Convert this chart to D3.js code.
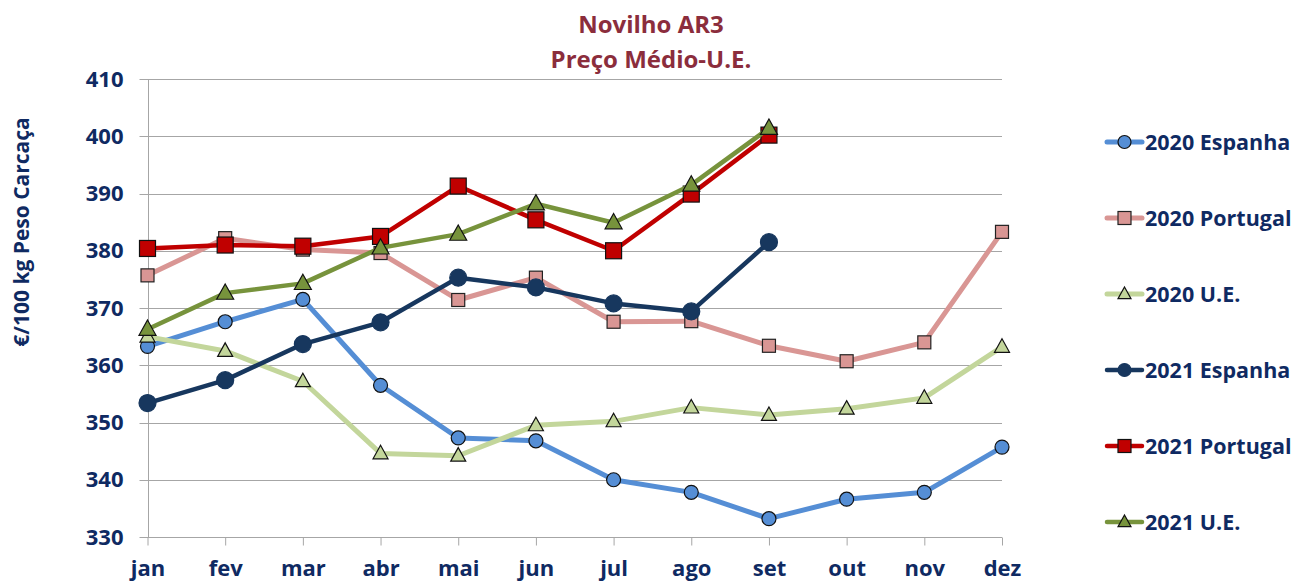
<!DOCTYPE html>
<html>
<head>
<meta charset="utf-8">
<script src="https://cdn.jsdelivr.net/npm/d3@7"></script>
<style>
  body { margin: 0; background: #fff; }
  text { font-family: "Open Sans", Lato, sans-serif; font-weight: bold; }
</style>
</head>
<body>
<div id="chart_container"></div>
<script>

// Data

const months = ["jan", "fev", "mar", "abr", "mai", "jun", "jul", "ago", "set", "out", "nov", "dez"]
const yTicks = [330, 340, 350, 360, 370, 380, 390, 400, 410]

const espanha2020 = [363.3, 367.6, 371.5, 356.5, 347.3, 346.8, 340.0, 337.8, 333.2, 336.6, 337.8, 345.7]
const portugal2020 = [375.7, 382.2, 380.2, 379.6, 371.4, 375.3, 367.6, 367.7, 363.4, 360.7, 364.0, 383.3]
const ue2020 = [365.0, 362.5, 357.2, 344.6, 344.2, 349.5, 350.2, 352.6, 351.3, 352.4, 354.3, 363.2]
const espanha2021 = [353.4, 357.4, 363.7, 367.5, 375.3, 373.6, 370.8, 369.4, 381.5]
const portugal2021 = [380.4, 381.0, 380.8, 382.5, 391.3, 385.4, 380.0, 389.9, 400.2]
const ue2021 = [366.3, 372.6, 374.3, 380.5, 382.9, 388.2, 384.9, 391.5, 401.4]

const seriesNames = ["2020 Espanha", "2020 Portugal", "2020 U.E.", "2021 Espanha", "2021 Portugal", "2021 U.E."]

// Styles

const textColor = "#0f2a62"
const gridColor = "#a6a6a6"
const styles = [
  { line: "#558ed5", fill: "#558ed5", stroke: "#111", shape: "circle", size: 7, width: 5 },
  { line: "#d99694", fill: "#d99694", stroke: "#222", shape: "square", size: 13, width: 5 },
  { line: "#c3d69b", fill: "#c3d69b", stroke: "#111", shape: "triangle", size: 15, width: 5 },
  { line: "#17375e", fill: "#17375e", stroke: "#17375e", shape: "circle", size: 8.5, width: 4.5 },
  { line: "#c00000", fill: "#c00000", stroke: "#111", shape: "square", size: 16, width: 4.5 },
  { line: "#77933c", fill: "#77933c", stroke: "#111", shape: "triangle", size: 17, width: 4.5 }
]
const allSeries = [espanha2020, portugal2020, ue2020, espanha2021, portugal2021, ue2021]

const svgWidth = 1305
const svgHeight = 581
const plotLeft = 147.5
const plotRight = 1002
const plotTop = 79
const plotBottom = 537

const svg = d3.select("#chart_container").append("svg")
  .attr("width", svgWidth)
  .attr("height", svgHeight)

const x = d3.scalePoint().domain(months).range([plotLeft, plotRight])
const y = d3.scaleLinear().domain([330, 410]).range([plotBottom, plotTop])

// gridlines
svg.selectAll(".yGrid")
  .data(yTicks)
  .join("line")
  .attr("class", "yGrid")
  .attr("x1", plotLeft - 8)
  .attr("x2", plotRight)
  .attr("y1", d => Math.round(y(d)) + 0.5)
  .attr("y2", d => Math.round(y(d)) + 0.5)
  .attr("stroke", gridColor)
  .attr("stroke-width", 1)

// left axis line
svg.append("line")
  .attr("x1", Math.round(plotLeft) + 0.5)
  .attr("x2", Math.round(plotLeft) + 0.5)
  .attr("y1", plotTop)
  .attr("y2", plotBottom)
  .attr("stroke", gridColor)

// y axis
svg.append("g")
  .attr("transform", `translate(${plotLeft - 14}, 0)`)
  .call(d3.axisLeft(y).tickValues(yTicks).tickSize(0).tickPadding(10))
  .call(g => g.select(".domain").remove())
  .selectAll("text")
  .attr("fill", textColor)
  .style("font-size", "22px")

// x axis
svg.append("g")
  .attr("transform", `translate(0, ${Math.round(plotBottom) + 0.5})`)
  .call(d3.axisBottom(x).tickSize(8).tickPadding(15))
  .call(g => g.select(".domain").remove())
  .call(g => g.selectAll(".tick line").attr("stroke", gridColor))
  .selectAll("text")
  .attr("fill", textColor)
  .style("font-size", "22px")

// y axis title
svg.append("text")
  .attr("transform", "rotate(-90)")
  .attr("x", -232)
  .attr("y", 29)
  .attr("text-anchor", "middle")
  .attr("fill", textColor)
  .style("font-size", "21px")
  .text("€/100 kg Peso Carcaça")

// title
const title = svg.append("text")
  .attr("text-anchor", "middle")
  .attr("fill", "#8b2d3c")
  .style("font-size", "24px")
title.append("tspan").attr("x", 651).attr("y", 33).text("Novilho AR3")
title.append("tspan").attr("x", 651).attr("y", 68).text("Preço Médio-U.E.")

// markers
function drawMarker(g, s, cx, cy) {
  if (s.shape === "circle") {
    g.append("circle").attr("cx", cx).attr("cy", cy).attr("r", s.size)
      .attr("fill", s.fill).attr("stroke", s.stroke).attr("stroke-width", 1.2)
  } else if (s.shape === "square") {
    g.append("rect").attr("x", cx - s.size / 2).attr("y", cy - s.size / 2)
      .attr("width", s.size).attr("height", s.size)
      .attr("fill", s.fill).attr("stroke", s.stroke).attr("stroke-width", 1.2)
  } else {
    const h = s.size * 0.9
    g.append("path")
      .attr("d", `M${cx},${cy - h * 0.6} L${cx + s.size / 2},${cy + h * 0.4} L${cx - s.size / 2},${cy + h * 0.4} Z`)
      .attr("fill", s.fill).attr("stroke", s.stroke).attr("stroke-width", 1.2)
  }
}

const line = d3.line()
  .x((d, i) => x(months[i]))
  .y(d => y(d))

allSeries.forEach((values, k) => {
  const s = styles[k]
  const g = svg.append("g")
  g.append("path")
    .datum(values)
    .attr("fill", "none")
    .attr("stroke", s.line)
    .attr("stroke-width", s.width)
    .attr("stroke-linejoin", "round")
    .attr("d", line)
  values.forEach((v, i) => drawMarker(g, s, x(months[i]), y(v)))
})

// legend
const legendX = 1107
const legendY0 = 142
const legendStep = 76
seriesNames.forEach((name, k) => {
  const s = styles[k]
  const ly = legendY0 + k * legendStep
  const g = svg.append("g")
  g.append("line")
    .attr("x1", legendX).attr("x2", legendX + 35)
    .attr("y1", ly).attr("y2", ly)
    .attr("stroke", s.line).attr("stroke-width", s.width)
    .attr("stroke-linecap", "round")
  const ms = Object.assign({}, s, { size: s.shape === "circle" ? 6.5 : 13 })
  drawMarker(g, ms, legendX + 17.5, ly)
  g.append("text")
    .attr("x", legendX + 38)
    .attr("y", ly)
    .attr("dy", "0.35em")
    .attr("fill", textColor)
    .style("font-size", "21.5px")
    .text(name)
})

</script>
</body>
</html>
